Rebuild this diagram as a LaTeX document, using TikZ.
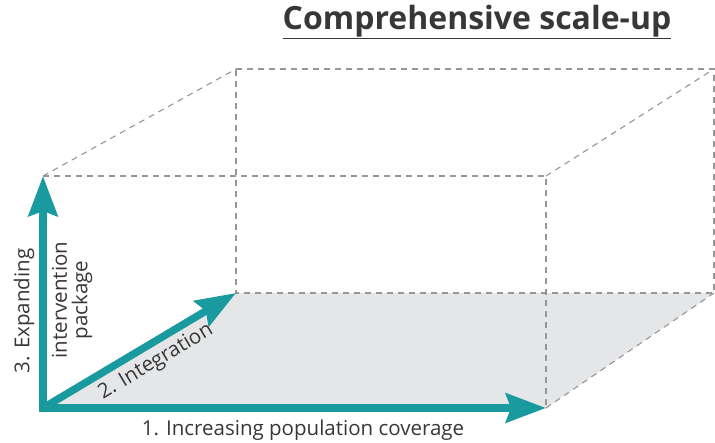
\documentclass[tikz,border=0pt]{standalone}
\usepackage{fontspec}
\setmainfont{Open Sans}
\usetikzlibrary{arrows.meta}
\definecolor{teal1}{RGB}{24,154,158}
\definecolor{floorgray}{RGB}{229,230,232}
\definecolor{dashgray}{RGB}{150,150,150}
\definecolor{txt}{RGB}{55,55,55}
\tikzset{
  edge/.style={draw=dashgray, line width=1.1pt, dash pattern=on 6pt off 5pt},
  axis/.style={draw=teal1, line width=7.5pt, -{Stealth[length=40pt,width=29pt,inset=5pt]}},
  lbl/.style={text=txt, font=\fontsize{20.5}{20.5}\selectfont, inner sep=0pt},
}
\begin{document}
\begin{tikzpicture}[x=1pt,y=-1pt]
\useasboundingbox (0,0) rectangle (715,443);
% corners
\coordinate (fbl) at (43,408);
\coordinate (fbr) at (546,408);
\coordinate (ftl) at (43,176);
\coordinate (ftr) at (546,176);
\coordinate (bbl) at (236,293);
\coordinate (bbr) at (714,293);
\coordinate (btl) at (236,69);
\coordinate (btr) at (714,69);
\coordinate (vstart) at (43,411.75);
\coordinate (hstart) at (39.25,408);
% floor
\fill[floorgray] (fbl) -- (fbr) -- (bbr) -- (bbl) -- cycle;
% dashed edges
\path[edge] (ftl) -- (ftr) -- (fbr);
\path[edge] (btl) -- (btr) -- (bbr) -- (bbl) -- cycle;
\path[edge] (ftl) -- (btl);
\path[edge] (ftr) -- (btr);
\path[edge] (fbr) -- (bbr);
% axes
\draw[axis] (fbl) -- (bbl);
\draw[axis] (vstart) -- (ftl);
\draw[axis] (hstart) -- (fbr);
% labels
\node[lbl, rotate=90] (l3) at (24,311) {3. Expanding};
\node[lbl, rotate=90, align=center] (l3b) at (72,300) {intervention\\package};
\node[lbl, rotate=30.8] (l2) at (156,362) {2. Integration};
\node[lbl] (l1) at (303,430) {1. Increasing population coverage};
\node[text=txt, font=\fontsize{32}{34}\selectfont\bfseries, inner sep=0pt] (title) at (477,22) {\underline{Comprehensive scale-up}};
\end{tikzpicture}
\end{document}
